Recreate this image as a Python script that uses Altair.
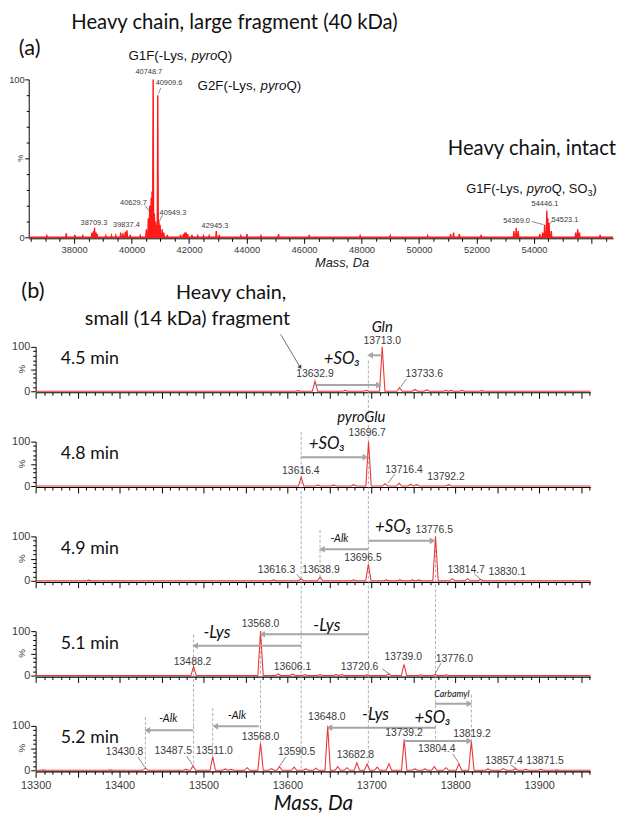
import altair as alt
import pandas as pd

# ----------------------------- fonts / colours ------------------------------
SANS = "Liberation Sans"      # Arial-like (instrument labels)
HUM = "Lato"                  # Calibri-like (slide annotations)
RED_A = "#ff1a1a"
RED_B = "#ee3535"
GRAY = "#a6a6a6"
DASH = "#9a9a9a"
INK = "#3a3a3a"

# ============================== PANEL (a) ===================================
A_DOMAIN = [36420, 56750]
A_TICKS = list(range(36500, 56751, 500))
A_LAST_LABEL = 54000

A_PEAK_MASS = [37050, 37725, 38024, 38300, 38620, 38680, 38709.3, 38760, 38800, 39100,
               39300, 39450, 39620, 39700, 39780, 39837.4, 39950, 40300, 40510, 40580,
               40629.7, 40680, 40710, 40748.7, 40790, 40830, 40870, 40909.6, 40949.3, 40990,
               41060, 41120, 41240, 41700, 41800, 41850, 41900, 41950, 42100, 42300,
               42500, 42700, 42945.3, 43050, 43800, 44013, 44500, 45110, 46180, 47950,
               49000, 50300, 51100, 51200, 51400, 52160, 53300, 53380, 53450, 54200,
               54300, 54369.0, 54446.1, 54480, 54523.1, 54600, 55450, 55520, 55580, 56300]
A_PEAK_INT = [1, 2.5, 1.5, 1, 3, 4, 6, 3, 2, 1,
              1.2, 1.2, 3, 2.5, 3.5, 4.5, 1.5, 1, 5, 12,
              20, 25, 29, 100, 15, 10, 8, 90, 10, 8,
              5, 3, 1.5, 1.5, 2, 3, 3, 2, 1.5, 1,
              1, 1, 4, 1.5, 1, 2, 1, 2, 1.5, 1,
              1, 1, 2, 3, 2, 1.5, 4, 6, 4, 2,
              3, 8, 17, 12, 9, 4, 3, 5, 3, 1.5]

A_LBL_TEXT = ["40748.7", "40909.6", "40629.7", "40949.3", "38709.3", "39837.4",
              "42945.3", "54446.1", "54369.0", "54523.1"]
A_LBL_MASS = [40600, 41300, 40062, 41436, 38690, 39820, 42900, 54380, 53393, 55077]
A_LBL_INT = [104.5, 97.5, 22, 15.6, 9, 7.5, 7, 21, 10.5, 11]

A_LEAD_X1 = [41010, 40470, 41070, 53930, 54640]
A_LEAD_Y1 = [94.5, 20, 14, 10, 10.5]
A_LEAD_X2 = [40935, 40640, 40960, 54330, 54540]
A_LEAD_Y2 = [91, 16, 10, 8, 8.5]

# ============================== PANEL (b) ===================================
B_DOMAIN = [13300, 13961]
B_TICKS = list(range(13300, 13961, 10))
B_TIMES = ["4.5 min", "4.8 min", "4.9 min", "5.1 min", "5.2 min"]

B_PEAK_MASS = [
    [13613, 13632.9, 13669, 13694, 13713.0, 13733.6, 13752, 13766, 13789, 13795, 13808, 13832],
    [13616.4, 13636.5, 13655, 13679, 13696.7, 13716.4, 13733, 13747, 13754, 13792.2],
    [13363.5, 13583.8, 13616.3, 13638.9, 13679, 13696.5, 13718, 13734, 13749, 13756.5,
     13776.5, 13796.5, 13814.7, 13830.1],
    [13488.2, 13568.0, 13589, 13606.1, 13621, 13639, 13658, 13665, 13695, 13720.6,
     13739.0, 13759, 13776.0, 13789],
    [13309, 13389, 13430.8, 13479, 13487.5, 13511.0, 13526, 13533, 13552, 13568.0,
     13581, 13590.5, 13608, 13622, 13634, 13648.0, 13660, 13671, 13682.8, 13695,
     13707, 13721, 13739.2, 13752, 13764, 13775, 13789, 13804.4, 13819.2, 13839,
     13857.4, 13871.5, 13884, 13902, 13921],
]
B_PEAK_INT = [
    [1.5, 23, 2, 2, 100, 8, 4, 3, 2, 2, 2, 1.5],
    [20, 2, 2, 3, 100, 5, 6, 4, 3, 3],
    [1.5, 2, 4, 8, 2, 37, 2, 2, 2, 2, 100, 5, 5, 3],
    [20, 100, 3, 3, 2, 2, 2, 2, 1.5, 3, 25, 1.5, 2, 1.5],
    [1, 1, 5, 2, 10, 31, 3, 2, 6, 61,
     4, 8, 7, 3, 5, 100, 8, 6, 17, 14,
     7, 15, 70, 3, 3, 8, 6, 15, 65, 3,
     4, 3, 2, 2, 1],
]

B_LBL_TEXT = [
    ["13632.9", "13713.0", "13733.6"],
    ["13616.4", "13696.7", "13716.4", "13792.2"],
    ["13616.3", "13638.9", "13696.5", "13776.5", "13814.7", "13830.1"],
    ["13488.2", "13568.0", "13606.1", "13720.6", "13739.0", "13776.0"],
    ["13430.8", "13487.5", "13511.0", "13568.0", "13590.5", "13648.0", "13682.8",
     "13739.2", "13804.4", "13819.2", "13857.4", "13871.5"],
]
B_LBL_MASS = [
    [13632.9, 13713, 13763],
    [13616, 13695, 13739, 13789],
    [13587, 13640, 13690, 13775, 13813, 13862],
    [13487, 13568, 13606, 13686, 13738, 13799],
    [13406, 13464, 13513, 13568, 13611, 13647, 13681, 13739, 13778, 13820, 13858, 13907],
]
B_LBL_INT = [
    [38, 114, 38],
    [33, 119, 37, 20],
    [25, 25, 51, 114, 24, 20],
    [31, 116, 20, 20, 41, 37],
    [41, 43, 43, 76, 41, 120, 34, 83, 48, 81, 20, 20],
]

# leader lines (x1, y1, x2, y2) per sub-panel
B_LEADERS = [
    [(13742, 28, 13735, 10)],
    [(13728, 27, 13720, 7)],
    [(13611, 15, 13616, 4), (13823, 15, 13830, 4)],
    [(13713, 15, 13722, 3), (13783, 28, 13776, 4)],
    [(13422, 30, 13430, 7), (13480, 32, 13487, 12), (13598, 30, 13591, 10),
     (13797, 37, 13804, 17), (13866, 12, 13873, 4)],
]

# dashed guide lines spanning sub-panels
DASH_MASS = [13696.5, 13616.4, 13638.9, 13776.5, 13819.2, 13488.2, 13568.0, 13430.8, 13511.0]
DASH_TOP_PANEL = [0, 1, 2, 2, 4, 3, 3, 4, 4]
DASH_TOP_Y = [69, 122, 114, 92, 170, 92, 100, 120, 140]
DASH_BOT_PANEL = [4, 4, 2, 4, 4, 4, 4, 4, 4]
DASH_BOT_Y = [0, 0, 0, 66, 65, 10, 61, 5, 31]

# grey mass-shift arrows
ARW_PANEL = [0, 0, 1, 2, 2, 3, 3, 4, 4, 4, 4, 4]
ARW_FROM = [13713.0, 13632.9, 13616.4, 13696.5, 13696.5, 13696.5, 13616.4,
            13776.0, 13776.0, 13739.2, 13487.5, 13566.0]
ARW_TO = [13698.5, 13709.0, 13693.0, 13641.0, 13773.0, 13570.0, 13490.0,
          13817.0, 13650.0, 13817.0, 13433.0, 13514.0]
ARW_Y = [81, 14, 65, 71, 90, 93, 67, 150, 96, 66, 90, 99]

ALB_PANEL = [0, 0, 1, 1, 2, 2, 3, 3, 4, 4, 4, 4, 4]
ALB_TEXT = ["Gln", "+SO₃", "pyroGlu", "+SO₃", "+SO₃", "-Alk", "-Lys", "-Lys",
            "Carbamyl", "-Lys", "+SO₃", "-Alk", "-Alk"]
ALB_MASS = [13713, 13665, 13688, 13647, 13726, 13662, 13647, 13516, 13796, 13705, 13773, 13458, 13540]
ALB_INT = [145, 72, 156, 95, 122, 93, 112, 95, 171, 124, 118, 115, 122]
ALB_SIZE = [15, 17, 15, 17, 17, 11, 17, 17, 9, 17, 17, 11, 11]

# ------------------------------- layout -------------------------------------
A_W, A_H = 592, 160
B_W, B_H, B_GAP = 562, 45, 51
AB_GAP = 111
GAP_PCT = 100.0 * B_GAP / B_H

ARIAL_W = {'G': 778, '1': 556, 'F': 611, '(': 333, '-': 333, 'L': 556, 'y': 500, 's': 500,
           ',': 278, ' ': 278, 'p': 556, 'r': 333, 'o': 556, 'Q': 778, ')': 333, '2': 556,
           'S': 667, 'O': 778, '3': 556}


def text_width(s, fs):
    return sum(ARIAL_W.get(c, 556) for c in s) * fs / 1000.0


def tri_df(masses, ints, hw, dom):
    rows = [(dom[0], 0.0)]
    for m, h in sorted(zip(masses, ints)):
        rows += [(m - hw, 0.0), (m, h), (m + hw, 0.0)]
    rows.append((dom[1], 0.0))
    return pd.DataFrame(rows, columns=["mass", "int"])


def pts(xs, ys, ts=None):
    d = {"mass": list(xs), "int": list(ys)}
    if ts is not None:
        d["t"] = list(ts)
    return pd.DataFrame(d)


def segs(x1, y1, x2, y2):
    return pd.DataFrame({"mass": list(x1), "int": list(y1), "mass2": list(x2), "int2": list(y2)})


def rich_text(x, y, parts, fs, X, Y, color="#111111"):
    out = []
    off = 0.0
    for txt, st in parts:
        size = fs * 0.7 if st == "sub" else fs
        dy = fs * 0.3 if st == "sub" else 0
        out.append(
            alt.Chart(pts([x], [y], [txt])).mark_text(
                align="left", baseline="middle", font=SANS, fontSize=size,
                fontStyle="italic" if st == "i" else "normal", dx=off, dy=dy, color=color
            ).encode(x=X, y=Y, text="t:N")
        )
        off += text_width(txt, size)
    return out


# ============================== build (a) ===================================
SA_X = alt.Scale(domain=A_DOMAIN, nice=False, zero=False)
SA_Y = alt.Scale(domain=[0, 100], nice=False)
AXA_X = alt.Axis(
    values=A_TICKS,
    tickSize={"condition": {"test": "datum.value % 2000 === 0", "value": 5}, "value": 3},
    labelExpr=f"(datum.value % 2000 === 0 && datum.value <= {A_LAST_LABEL}) ? format(datum.value, 'd') : ''",
    labelOverlap=False, labelFlush=False, labelFont=SANS, labelFontSize=9.5, labelColor=INK,
    labelPadding=1, domainColor="black", tickColor="black", grid=False, offset=1,
    titleFont=SANS, titleFontStyle="italic", titleFontWeight="normal", titleFontSize=13,
    titleColor="#222222", titlePadding=3, titleX=317,
)
AXA_Y = alt.Axis(
    values=list(range(0, 101, 10)),
    tickSize={"condition": {"test": "datum.value % 50 === 0", "value": 4}, "value": 2.5},
    labelExpr="datum.value === 0 || datum.value === 100 ? datum.label : ''",
    labelOverlap=False, labelFont=SANS, labelFontSize=9.5, labelColor=INK, labelPadding=0.5,
    domainColor="black", tickColor="black", grid=False,
)
XA = alt.X("mass:Q", scale=SA_X, axis=AXA_X, title="Mass, Da")
YA = alt.Y("int:Q", scale=SA_Y, axis=AXA_Y, title=None)

spec_a = tri_df(A_PEAK_MASS, A_PEAK_INT, 18, A_DOMAIN)
a_layers = [
    alt.Chart(spec_a).mark_area(color=RED_A, opacity=1).encode(x=XA, y=YA),
    alt.Chart(spec_a).mark_line(color=RED_A, strokeWidth=1.4).encode(x=XA, y=YA),
    alt.Chart(segs(A_LEAD_X1, A_LEAD_Y1, A_LEAD_X2, A_LEAD_Y2)).mark_rule(
        color="#555555", strokeWidth=0.7).encode(x=XA, x2="mass2:Q", y=YA, y2="int2:Q"),
    alt.Chart(pts(A_LBL_MASS, A_LBL_INT, A_LBL_TEXT)).mark_text(
        font=SANS, fontSize=7.5, color=INK, baseline="middle").encode(x=XA, y=YA, text="t:N"),
    alt.Chart(pts([A_DOMAIN[0]], [50], ["%"])).mark_text(
        font=SANS, fontSize=8, angle=270, color=INK).encode(x=alt.value(-8), y=YA, text="t:N"),
    alt.Chart(pts([37900], [135.6], ["Heavy chain, large fragment (40 kDa)"])).mark_text(
        font=HUM, fontSize=20.5, align="left", baseline="middle", color="#111111").encode(x=XA, y=YA, text="t:N"),
    alt.Chart(pts([36076], [120], ["(a)"])).mark_text(
        font=HUM, fontSize=22, align="left", baseline="middle", color="#111111").encode(x=XA, y=YA, text="t:N"),
    alt.Chart(pts([51000], [55.6], ["Heavy chain, intact"])).mark_text(
        font=HUM, fontSize=20.5, align="left", baseline="middle", color="#111111").encode(x=XA, y=YA, text="t:N"),
]
a_layers += rich_text(39890, 115, [("G1F(-Lys, ", "n"), ("pyro", "i"), ("Q)", "n")], 13.5, XA, YA)
a_layers += rich_text(42295, 96, [("G2F(-Lys, ", "n"), ("pyro", "i"), ("Q)", "n")], 13.5, XA, YA)
a_layers += rich_text(51640, 30.6, [("G1F(-Lys, ", "n"), ("pyro", "i"), ("Q, SO", "n"),
                                     ("3", "sub"), (")", "n")], 13, XA, YA)
panel_a = alt.layer(*a_layers).properties(width=A_W, height=A_H)


# ============================== build (b) ===================================
def sub_chart(k):
    last = k == len(B_TIMES) - 1
    sx = alt.Scale(domain=B_DOMAIN, nice=False, zero=False)
    sy = alt.Scale(domain=[0, 100], nice=False)
    ax_kw = dict(
        values=B_TICKS,
        tickSize={"condition": {"test": "datum.value % 50 === 0", "value": 6}, "value": 3},
        domainColor="black", tickColor="black", grid=False, offset=1, domainWidth=1.2,
        labelOverlap=False, labelFlush=False,
    )
    if last:
        ax_kw.update(
            labelExpr="datum.value % 100 === 0 ? format(datum.value, 'd') : ''",
            labelFont=SANS, labelFontSize=11, labelColor=INK, labelPadding=2,
            titleFont=HUM, titleFontStyle="italic", titleFontWeight="normal", titleFontSize=21,
            titleColor="#111111", titlePadding=3,
        )
        X = alt.X("mass:Q", scale=sx, axis=alt.Axis(**ax_kw), title="Mass, Da")
    else:
        ax_kw.update(labels=False)
        X = alt.X("mass:Q", scale=sx, axis=alt.Axis(**ax_kw), title=None)
    Y = alt.Y("int:Q", scale=sy, title=None, axis=alt.Axis(
        values=list(range(0, 101, 10)),
        tickSize={"condition": {"test": "datum.value % 50 === 0", "value": 5}, "value": 3},
        labelExpr="datum.value === 0 || datum.value === 100 ? datum.label : ''",
        labelOverlap=False, labelFont=SANS, labelFontSize=11, labelColor=INK, labelPadding=1,
        domainColor="black", tickColor="black", grid=False,
    ))

    layers = []
    # dashed guides
    dx1, dy1, dx2, dy2 = [], [], [], []
    for m, tp, ty, bp, by in zip(DASH_MASS, DASH_TOP_PANEL, DASH_TOP_Y, DASH_BOT_PANEL, DASH_BOT_Y):
        if tp <= k <= bp:
            dx1.append(m)
            dy1.append(ty if k == tp else 100)
            dx2.append(m)
            dy2.append(by if k == bp else -GAP_PCT)
    if dx1:
        layers.append(alt.Chart(segs(dx1, dy1, dx2, dy2)).mark_rule(
            color=DASH, strokeWidth=0.8, strokeDash=[3, 2]).encode(x=X, x2="mass2:Q", y=Y, y2="int2:Q"))

    # spectrum
    layers.append(alt.Chart(tri_df(B_PEAK_MASS[k], B_PEAK_INT[k], 3.2, B_DOMAIN)).mark_line(
        color=RED_B, strokeWidth=1.1).encode(x=X, y=Y))

    # arrows
    ax1, ay, ax2, lefts, rights = [], [], [], [], []
    for p, f, t, yv in zip(ARW_PANEL, ARW_FROM, ARW_TO, ARW_Y):
        if p == k:
            ax1.append(f); ax2.append(t); ay.append(yv)
            (lefts if t < f else rights).append((t, yv))
    if ax1:
        layers.append(alt.Chart(segs(ax1, ay, ax2, ay)).mark_rule(
            color=GRAY, strokeWidth=2).encode(x=X, x2="mass2:Q", y=Y))
    if lefts:
        layers.append(alt.Chart(pts([a for a, _ in lefts], [b for _, b in lefts])).mark_point(
            shape="triangle-left", filled=True, size=45, color=GRAY, opacity=1).encode(x=X, y=Y))
    if rights:
        layers.append(alt.Chart(pts([a for a, _ in rights], [b for _, b in rights])).mark_point(
            shape="triangle-right", filled=True, size=45, color=GRAY, opacity=1).encode(x=X, y=Y))

    # arrow labels
    lx, ly, lt, ls = [], [], [], []
    for p, t, x, yv, s in zip(ALB_PANEL, ALB_TEXT, ALB_MASS, ALB_INT, ALB_SIZE):
        if p == k:
            lx.append(x); ly.append(yv); lt.append(t); ls.append(s)
    if lx:
        df = pts(lx, ly, lt)
        df["fs"] = ls
        layers.append(alt.Chart(df).mark_text(
            font=HUM, fontStyle="italic", baseline="middle", color="#111111").encode(
            x=X, y=Y, text="t:N", size=alt.Size("fs:Q", scale=None, legend=None)))

    # leaders
    if B_LEADERS[k]:
        L = B_LEADERS[k]
        layers.append(alt.Chart(segs([a[0] for a in L], [a[1] for a in L], [a[2] for a in L],
                                     [a[3] for a in L])).mark_rule(
            color="#555555", strokeWidth=0.7).encode(x=X, x2="mass2:Q", y=Y, y2="int2:Q"))

    # peak labels
    layers.append(alt.Chart(pts(B_LBL_MASS[k], B_LBL_INT[k], B_LBL_TEXT[k])).mark_text(
        font=SANS, fontSize=10.5, color=INK, baseline="middle").encode(x=X, y=Y, text="t:N"))

    # time label and % label
    layers.append(alt.Chart(pts([13330], [72], [B_TIMES[k]])).mark_text(
        font=HUM, fontSize=18, align="left", baseline="middle", color="#111111").encode(x=X, y=Y, text="t:N"))
    layers.append(alt.Chart(pts([B_DOMAIN[0]], [50], ["%"])).mark_text(
        font=SANS, fontSize=10, angle=270, color=INK).encode(x=alt.value(-14), y=Y, text="t:N"))

    if k == 0:
        layers.append(alt.Chart(pts([13283], [225], ["(b)"])).mark_text(
            font=HUM, fontSize=22, align="left", baseline="middle", color="#111111").encode(x=X, y=Y, text="t:N"))
        layers.append(alt.Chart(pts([13533, 13481], [220, 163],
                                    ["Heavy chain,", "small (14 kDa) fragment"])).mark_text(
            font=HUM, fontSize=20, baseline="middle", color="#111111").encode(x=X, y=Y, text="t:N"))
        layers.append(alt.Chart(segs([13592], [128], [13615], [55])).mark_rule(
            color="#444444", strokeWidth=0.8).encode(x=X, x2="mass2:Q", y=Y, y2="int2:Q"))
        layers.append(alt.Chart(pts([13615], [55])).mark_point(
            shape="triangle", angle=147, filled=True, size=22, color="#444444", opacity=1).encode(x=X, y=Y))

    return alt.layer(*layers).properties(width=B_W, height=B_H)


subs = [sub_chart(k) for k in range(len(B_TIMES))]
spacer = alt.Chart(pd.DataFrame({"v": [0]})).mark_point(opacity=0).encode(
    x=alt.X("v:Q", axis=None), y=alt.Y("v:Q", axis=None)).properties(width=1, height=1)
panel_b = alt.hconcat(spacer, alt.vconcat(*subs, spacing=B_GAP, bounds="flush"),
                      spacing=6, bounds="flush")

chart = alt.vconcat(panel_a, panel_b, spacing=AB_GAP, bounds="flush").properties(
    padding=0, background="white").configure_view(stroke=None)

chart.save("out.html", embed_options={"renderer": "svg", "actions": False})
